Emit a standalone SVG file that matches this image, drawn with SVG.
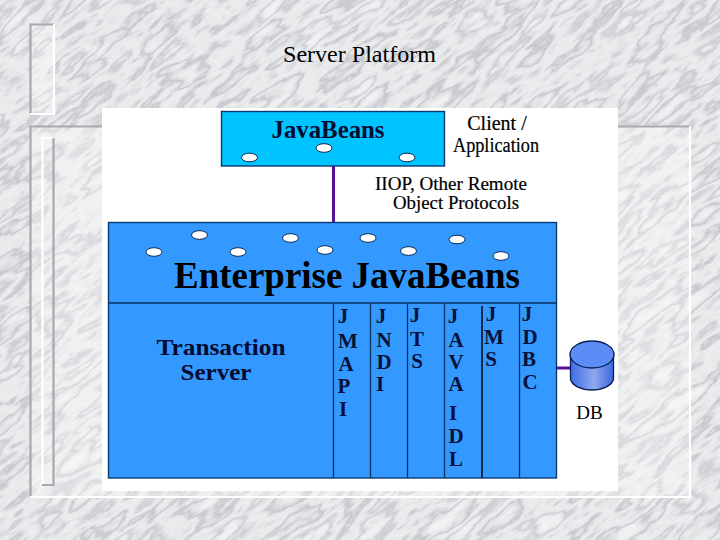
<svg xmlns="http://www.w3.org/2000/svg" width="720" height="540" viewBox="0 0 720 540">
<defs>
<filter id="marble" filterUnits="userSpaceOnUse" x="-300" y="-500" width="1400" height="1500" color-interpolation-filters="sRGB">
<feTurbulence type="fractalNoise" baseFrequency="0.016 0.055" numOctaves="6" seed="7" result="n"/>
<feColorMatrix in="n" type="matrix" values="0 0 0 0 0.55  0 0 0 0 0.56  0 0 0 0 0.6  1 0 0 0 0"/>
<feComponentTransfer><feFuncA type="table" tableValues="0 0 0 0 0.06 0.16 0.42 0.1 0.04 0.16 0.36 0.08 0 0 0 0"/></feComponentTransfer>
</filter>
<linearGradient id="can" x1="0" x2="1" y1="0" y2="0">
<stop offset="0" stop-color="#3f6ee8"/><stop offset="0.55" stop-color="#8fa8ee"/><stop offset="1" stop-color="#3a68e0"/>
</linearGradient>
<ellipse id="bean" rx="8" ry="4.300" fill="#fff" stroke="#0a2a55" stroke-width="1"/>
</defs>
<style>
.panel{stroke:#0b3a6e;stroke-width:1.4}
.div{stroke:#0b3060;stroke-width:1.3;fill:none}
.link{stroke:#5a0f9a;stroke-width:3;fill:none}
.gray{stroke:#a9a9ad;stroke-width:2.2;fill:none}
.white{stroke:#fff;stroke-width:2.2;fill:none}
text{font-family:"Liberation Serif","Times New Roman",serif;fill:#000}
.b{font-weight:bold;fill:#050a30}
.k{font-weight:bold;fill:#000}
.c{font-size:21px;font-weight:bold;fill:#06103a}
.n{stroke:#000;stroke-width:0.2}
</style>
<g id="background">
<rect width="720" height="540" fill="#f0f1f2"/>
<rect x="-300" y="-500" width="1400" height="1500" filter="url(#marble)" transform="rotate(-38 360 270)"/>
<rect x="30" y="126" width="660" height="371" fill="#fff" opacity="0.3"/>
<rect x="30" y="24" width="24" height="90" fill="#fff" opacity="0.3"/>
<path class="gray" d="M54 24.500H30.500V114"/>
<path class="white" d="M54 24V114H30"/>
<path class="gray" d="M30.500 497V126.500H690"/>
<path class="white" d="M30 497H690V126"/>
<path class="white" d="M42.500 485V138H54"/>
<path class="gray" d="M53.500 138V485H42"/>
<rect x="102" y="108" width="516" height="383" fill="#fff"/>
</g>
<text x="359.500" y="62" font-size="24" text-anchor="middle" textLength="153" lengthAdjust="spacingAndGlyphs">Server Platform</text>
<g id="connectors">
<path class="link" d="M333.500 166V222"/>
<path class="link" d="M556 368H572"/>
</g>
<g id="javabeans">
<rect class="panel" x="221.500" y="111.500" width="223" height="54.500" fill="#00c4ff"/>
<text class="b" x="328" y="138" font-size="26" text-anchor="middle" textLength="113" lengthAdjust="spacingAndGlyphs">JavaBeans</text>
<use href="#bean" x="249.500" y="157.500"/><use href="#bean" x="324" y="148"/><use href="#bean" x="407" y="157.500"/>
</g>
<g id="client-label">
<text class="n" x="497" y="130" font-size="20" text-anchor="middle">Client /</text>
<text class="n" x="496" y="152" font-size="20" text-anchor="middle" textLength="86" lengthAdjust="spacingAndGlyphs">Application</text>
</g>
<g id="protocol-label">
<text class="n" x="451" y="190" font-size="18" text-anchor="middle" textLength="152" lengthAdjust="spacingAndGlyphs">IIOP, Other Remote</text>
<text class="n" x="456" y="209" font-size="18" text-anchor="middle" textLength="126" lengthAdjust="spacingAndGlyphs">Object Protocols</text>
</g>
<g id="enterprise-javabeans">
<rect class="panel" x="108.500" y="222.500" width="448" height="255.500" fill="#3399ff"/>
<use href="#bean" x="154" y="252"/><use href="#bean" x="199.500" y="235"/><use href="#bean" x="238" y="252"/><use href="#bean" x="290.500" y="238"/><use href="#bean" x="325" y="250"/><use href="#bean" x="368" y="238"/><use href="#bean" x="408.500" y="251"/><use href="#bean" x="457" y="239.500"/><use href="#bean" x="501" y="256"/>
<text class="k" x="347" y="288" font-size="38" text-anchor="middle" textLength="346" lengthAdjust="spacingAndGlyphs">Enterprise JavaBeans</text>
<path class="div" d="M108.500 303H556M333.500 303V478M370.500 303V478M407.500 303V478M444.500 303V478M519.500 303V478"/>
<path d="M482 306V478" stroke="#0b2a50" stroke-width="2" fill="none"/>
</g>
<g id="transaction-server">
<text class="b" x="221" y="355" font-size="23" text-anchor="middle" textLength="129" lengthAdjust="spacingAndGlyphs">Transaction</text>
<text class="b" x="216" y="380" font-size="23" text-anchor="middle" textLength="71" lengthAdjust="spacingAndGlyphs">Server</text>
</g>
<g id="jmapi" text-anchor="middle">
<text class="c" x="343" y="323">J</text><text class="c" x="348" y="348">M</text><text class="c" x="346" y="371">A</text><text class="c" x="344" y="393">P</text><text class="c" x="343" y="416">I</text>
</g>
<g id="jndi" text-anchor="middle">
<text class="c" x="381" y="323">J</text><text class="c" x="384" y="347">N</text><text class="c" x="384" y="369">D</text><text class="c" x="380" y="391">I</text>
</g>
<g id="jts" text-anchor="middle">
<text class="c" x="415" y="322">J</text><text class="c" x="417" y="346">T</text><text class="c" x="417" y="368">S</text>
</g>
<g id="javaidl" text-anchor="middle">
<text class="c" x="453" y="323">J</text><text class="c" x="456" y="347">A</text><text class="c" x="456" y="369">V</text><text class="c" x="456" y="391">A</text><text class="c" x="453" y="420">I</text><text class="c" x="456" y="443">D</text><text class="c" x="456" y="466">L</text>
</g>
<g id="jms" text-anchor="middle">
<text class="c" x="491" y="321">J</text><text class="c" x="494" y="344">M</text><text class="c" x="491" y="366">S</text>
</g>
<g id="jdbc" text-anchor="middle">
<text class="c" x="527" y="321">J</text><text class="c" x="530" y="344">D</text><text class="c" x="529" y="366">B</text><text class="c" x="530" y="389">C</text>
</g>
<g id="db">
<path d="M570.500 353V379C572 386 582 390 592 390S612 386 613.500 379V353Z" fill="url(#can)" stroke="#0b1f55" stroke-width="1.300"/>
<ellipse cx="592" cy="354.500" rx="22" ry="13.500" fill="#5c8cf5" stroke="#0b1f55" stroke-width="1.300"/>
<text x="589.500" y="419" font-size="19" text-anchor="middle">DB</text>
</g>
</svg>
